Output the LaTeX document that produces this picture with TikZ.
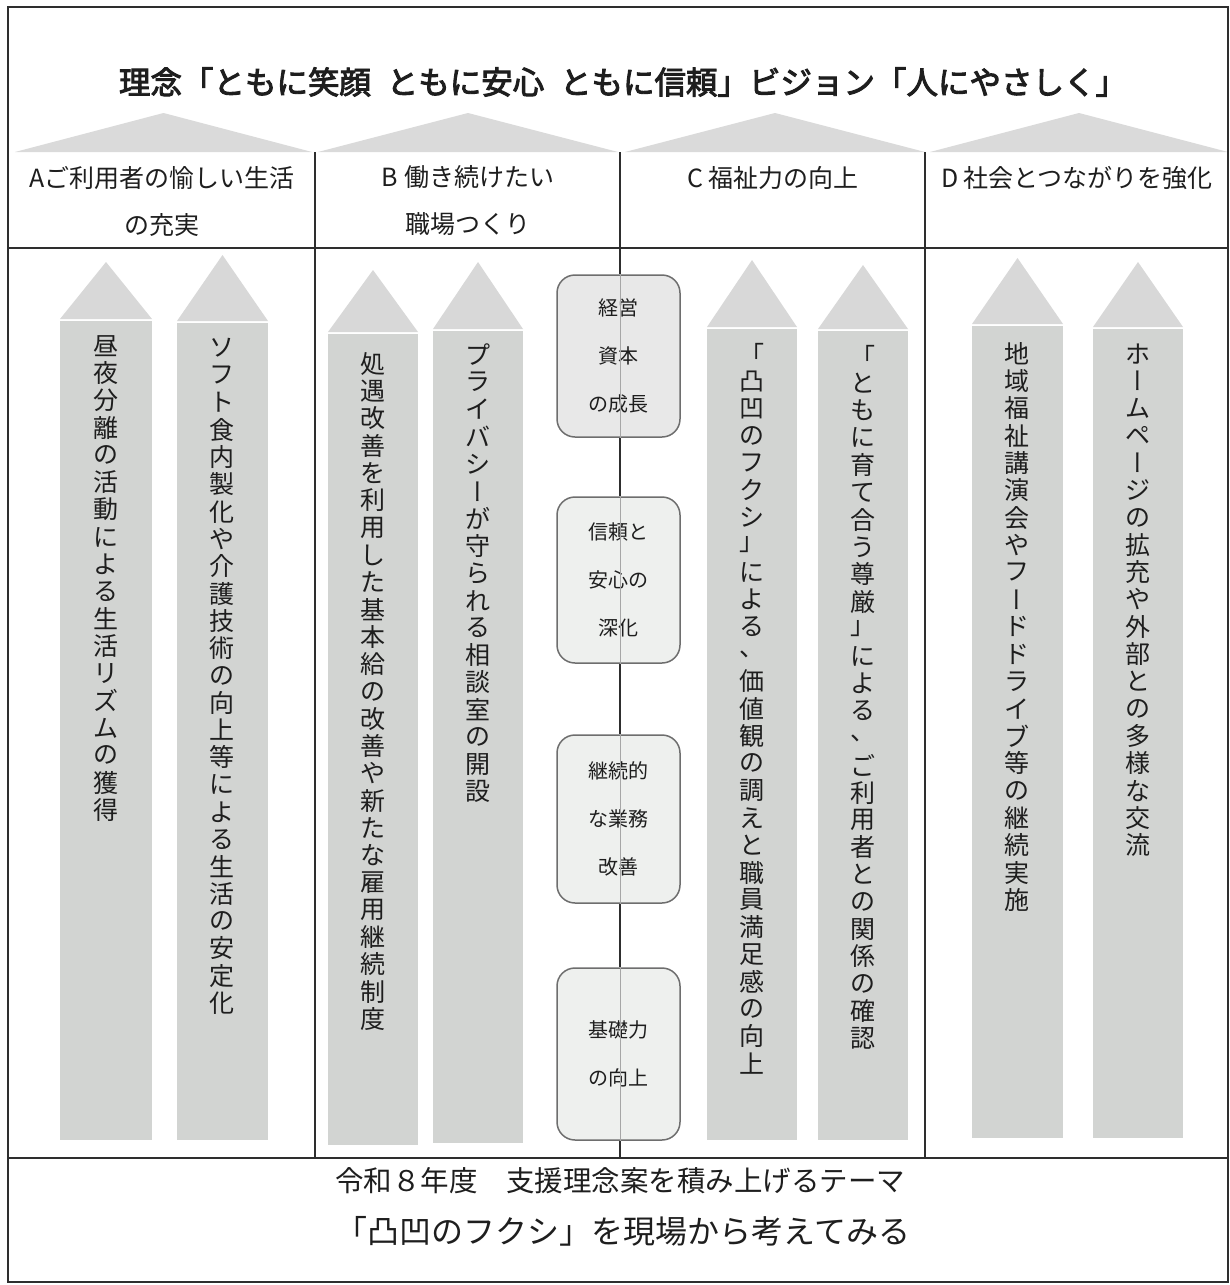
\documentclass[tikz,border=0pt]{standalone}
\usepackage{fontspec}
\setmainfont{Noto Sans CJK JP}
\newfontfamily\jp{Noto Sans CJK JP}
\newfontfamily\jpv[RawFeature=+vert]{Noto Sans CJK JP}
\newfontfamily\jpb[FakeBold=3]{Noto Sans CJK JP}
\ExplSyntaxOn
\NewDocumentCommand \vtext { m m }
  {
    \vbox:n
      {
        \offinterlineskip
        \tl_map_inline:nn {#2}
          {
            \hbox_to_wd:nn {1em}
              { \hss \vbox_to_ht:nn {#1} { \vss \hbox:n {##1} \vss } \hss }
          }
      }
  }
\ExplSyntaxOff
\newcommand\vbar{{\jpv ー}}
\definecolor{linec}{HTML}{2E2E2E}
\definecolor{roofc}{HTML}{DADADA}
\definecolor{headc}{HTML}{D8D8D8}
\definecolor{shaftc}{HTML}{D2D4D2}
\definecolor{boxc}{HTML}{EEF0EE}
\definecolor{boxd}{HTML}{6E6E6E}
\definecolor{txtc}{HTML}{1E1E1E}
\tikzset{
  rule/.style={draw=linec, line width=1.6pt},
  vt/.style={font=\jp\fontsize{25pt}{25pt}\selectfont, text=txtc, inner sep=0pt, anchor=north},
  hdr/.style={font=\jp\fontsize{25pt}{47pt}\selectfont, text=txtc, align=center, inner sep=0pt},
  cbox/.style={draw=boxd, line width=1.5pt, fill=boxc, rounded corners=18pt,
    minimum width=123pt, inner sep=0pt, align=center, text=txtc,
    font=\jp\fontsize{20pt}{48pt}\selectfont},
  thinc/.style={draw=gray!70, line width=0.6pt},
  foot/.style={font=\jp\fontsize{28.5pt}{30pt}\selectfont, text=txtc, inner sep=0pt},
}
\begin{document}
\begin{tikzpicture}[x=1pt,y=-1pt]
\useasboundingbox (0,0) rectangle (1230,1285);
\fill[white] (0,0) rectangle (1230,1285);
% roofs
\foreach \l/\r in {15/312, 318/618, 625/925, 930/1228}
  \fill[roofc] (\l,152) -- ({(\l+\r)/2},113) -- (\r,152) -- cycle;
% title
\node[font=\jpb\fontsize{31.5pt}{31.5pt}\selectfont, text=txtc, inner sep=0pt] (title) at (623,82)
  {理念「ともに笑顔\hspace{0.5em}ともに安心\hspace{0.5em}ともに信頼」ビジョン「人にやさしく」};
% headers
\node[hdr] (hA) at (162,201) {Aご利用者の愉しい生活\\の充実};
\node[hdr] (hB) at (468,201) {B 働き続けたい\\職場つくり};
\node[hdr] (hC) at (773,178) {C 福祉力の向上};
\node[hdr] (hD) at (1077,178) {D 社会とつながりを強化};
% arrows
\foreach \l/\r/\a/\s/\b in {60/152/262/320/1140, 177/268/255/322/1140,
    328/418/270/333/1145, 433/523/262/330/1143,
    707/797/260/328/1140, 818/908/265/330/1140,
    972/1063/258/325/1138, 1093/1183/262/328/1138}{
  \fill[headc] (\l,\s-1) -- ({(\l+\r)/2},\a) -- (\r,\s-1) -- cycle;
  \fill[shaftc] (\l,\s+1) rectangle (\r,\b);
}
\node[vt] (tA1) at (106,332) {\vtext{27.3pt}{昼夜分離の活動による生活リズムの獲得}};
\node[vt] (tA2) at (222,334) {\vtext{27.3pt}{ソフト食内製化や介護技術の向上等による生活の安定化}};
\node[vt] (tB1) at (373,350) {\vtext{27.3pt}{処遇改善を利用した基本給の改善や新たな雇用継続制度}};
\node[vt] (tB2) at (478,341) {\vtext{27.3pt}{プライバシ\vbar が守られる相談室の開設}};
\node[vt] (tC1) at (752,340) {\vtext{27.3pt}{「凸凹のフクシ」による、価値観の調えと職員満足感の向上}};
\node[vt] (tC2) at (863,342) {\vtext{27.3pt}{「ともに育て合う尊厳」による、ご利用者との関係の確認}};
\node[vt] (tD1) at (1017,340) {\vtext{27.3pt}{地域福祉講演会やフ\vbar ドドライブ等の継続実施}};
\node[vt] (tD2) at (1138,340) {\vtext{27.3pt}{ホ\vbar ムペ\vbar ジの拡充や外部との多様な交流}};
% grid lines
\draw[rule] (8,248) -- (1228,248);
\draw[rule] (8,1158) -- (1228,1158);
\draw[rule] (315,152) -- (315,1158);
\draw[rule] (925,152) -- (925,1158);
% center boxes
\node[cbox, minimum height=162pt, fill=boxc!80!gray!60!white] (b1) at (618.5,356) {経営\\資本\\の成長};
\node[cbox, minimum height=166pt] (b2) at (618.5,580) {信頼と\\安心の\\深化};
\node[cbox, minimum height=168pt] (b3) at (618.5,819) {継続的\\な業務\\改善};
\node[cbox, minimum height=172pt] (b4) at (618.5,1054) {基礎力\\の向上};
\coordinate (ctop) at (620,152);
\coordinate (cbot) at (620,1158);
\draw[rule] (ctop) -- (ctop|-b1.north);
\draw[rule] (b1.south-|ctop) -- (b2.north-|ctop);
\draw[rule] (b2.south-|ctop) -- (b3.north-|ctop);
\draw[rule] (b3.south-|ctop) -- (b4.north-|ctop);
\draw[rule] (b4.south-|ctop) -- (cbot);
\foreach \n in {b1,b2,b3,b4}
  \draw[thinc] (\n.north-|ctop) -- (\n.south-|ctop);
% footer
\node[foot] (f1) at (620,1181) {令和８年度　支援理念案を積み上げるテーマ};
\node[foot, font=\jp\fontsize{32pt}{32pt}\selectfont] (f2) at (623,1231) {「凸凹のフクシ」を現場から考えてみる};
% frame
\draw[rule] (8,7) rectangle (1228,1282);
\end{tikzpicture}
\end{document}
